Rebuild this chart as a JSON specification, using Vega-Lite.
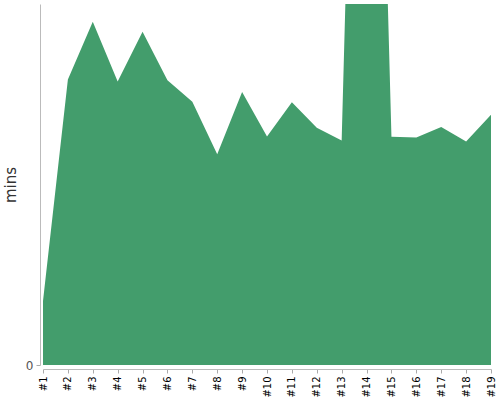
{
  "$schema": "https://vega.github.io/schema/vega-lite/v6.json",
  "width": 448,
  "height": 361,
  "autosize": {"type": "none"},
  "padding": {"left": 43, "top": 4, "right": 9, "bottom": 35},
  "background": "white",
  "config": {
    "view": {"stroke": null},
    "font": "DejaVu Sans"
  },
  "data": {
    "values": [
      {"run": "#1", "mins": 17.7},
      {"run": "#2", "mins": 79.1},
      {"run": "#3", "mins": 95.1},
      {"run": "#4", "mins": 78.5},
      {"run": "#5", "mins": 92.3},
      {"run": "#6", "mins": 78.9},
      {"run": "#7", "mins": 72.9},
      {"run": "#8", "mins": 58.4},
      {"run": "#9", "mins": 75.6},
      {"run": "#10", "mins": 63.3},
      {"run": "#11", "mins": 72.8},
      {"run": "#12", "mins": 65.7},
      {"run": "#13", "mins": 62.2},
      {"run": "#14", "mins": 317},
      {"run": "#15", "mins": 63.2},
      {"run": "#16", "mins": 63.0},
      {"run": "#17", "mins": 65.9},
      {"run": "#18", "mins": 61.9},
      {"run": "#19", "mins": 69.3}
    ]
  },
  "mark": {"type": "area", "color": "#439d6c", "clip": true, "interpolate": "linear"},
  "encoding": {
    "x": {
      "field": "run",
      "type": "ordinal",
      "sort": null,
      "scale": {"type": "point", "padding": 0},
      "axis": {
        "title": null,
        "offset": 4,
        "labelAngle": -90,
        "labelAlign": "right",
        "labelBaseline": "middle",
        "labelFontSize": 10,
        "labelColor": "#000",
        "labelPadding": 3,
        "tickSize": 4,
        "tickColor": "#aaa",
        "domainColor": "#bbb",
        "grid": false
      }
    },
    "y": {
      "field": "mins",
      "type": "quantitative",
      "scale": {"domain": [0, 100], "nice": false},
      "axis": {
        "title": "mins",
        "titleFontSize": 15,
        "titleFontWeight": "normal",
        "titleColor": "#333",
        "titlePadding": 7,
        "values": [0],
        "offset": 3,
        "grid": false,
        "tickSize": 4,
        "tickColor": "#aaa",
        "domainColor": "#bbb",
        "labelFontSize": 12,
        "labelColor": "#555",
        "labelPadding": 3
      }
    }
  }
}
